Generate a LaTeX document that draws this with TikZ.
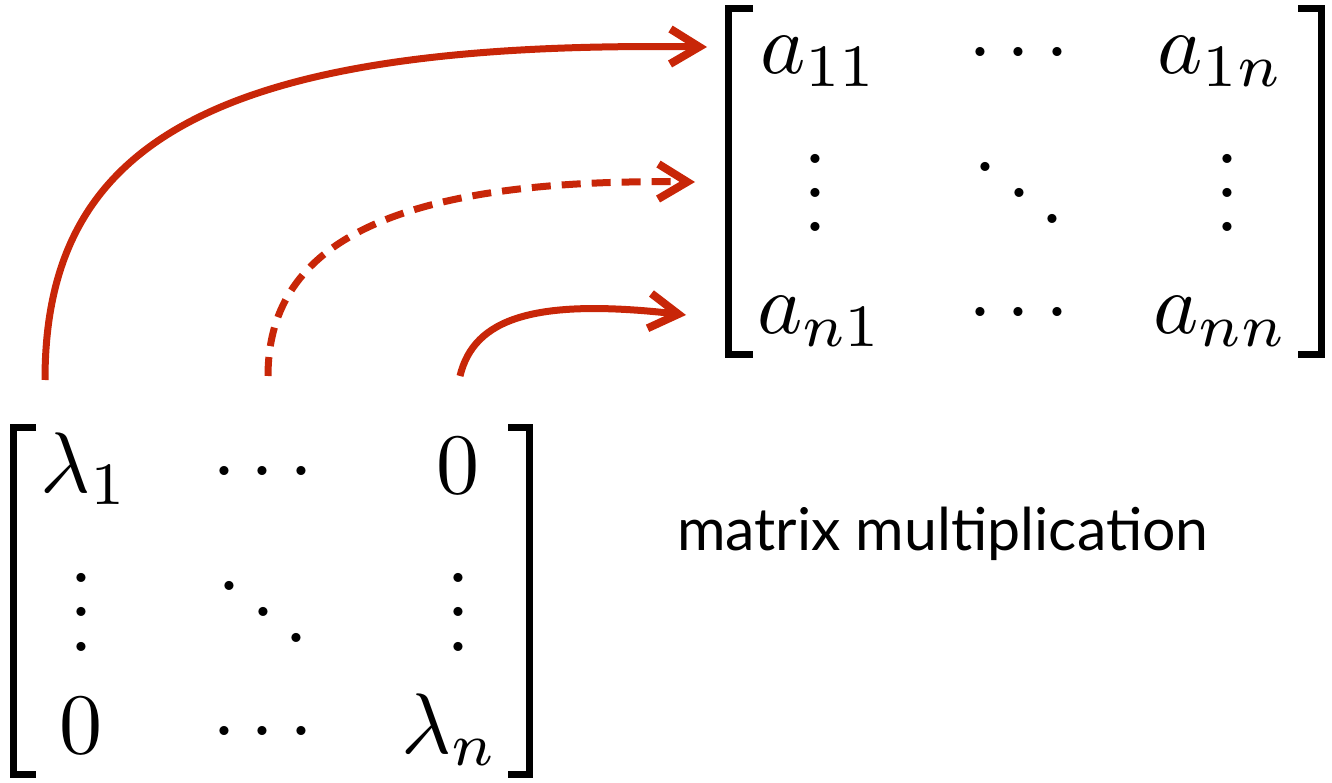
\documentclass[tikz,border=0pt]{standalone}
\usepackage{fontspec}
\newfontfamily\labelfont{Lato}
\usetikzlibrary{arrows.meta}
\definecolor{arrowred}{RGB}{200,38,8}
\newcommand{\myvdots}{\vbox{\baselineskip4pt\lineskiplimit0pt\hbox{.}\hbox{.}\hbox{.}}}
\tikzset{
  entry/.style={inner sep=0pt, outer sep=0pt, scale=8.6},
  bracket/.style={draw=black, line width=7pt, line cap=butt, line join=miter},
  link/.style={draw=arrowred, line width=7pt, line cap=butt,
    -{Straight Barb[length=29pt,width=35pt,line width=8pt]}},
  dashedlink/.style={link, dash pattern=on 19pt off 11pt},
  caption/.style={inner sep=0pt, font=\labelfont\fontsize{59}{69}\selectfont}
}
\begin{document}
\begin{tikzpicture}[x=1pt,y=-1pt]
\useasboundingbox (0,0) rectangle (1332,783);

% upper matrix
\draw[bracket] (753,8.5) -- (728.5,8.5) -- (728.5,354.5) -- (753,354.5);
\draw[bracket] (1298,8.5) -- (1321.5,8.5) -- (1321.5,354.5) -- (1298,354.5);
\node[entry, anchor=base west] (a11) at (760,73.5) {$a_{11}$};
\node[entry, anchor=base] (ac1) at (1019,73.5) {$\cdots$};
\node[entry, anchor=base east] (a1n) at (1284,73.5) {$a_{1n}$};
\node[entry, anchor=base] (av1) at (815,232) {\myvdots};
\node[entry, anchor=base] (ad) at (1019,232) {$\ddots$};
\node[entry, anchor=base] (av2) at (1227,232) {\myvdots};
\node[entry, anchor=base west] (an1) at (757,333.5) {$a_{n1}$};
\node[entry, anchor=base] (ac2) at (1019,333.5) {$\cdots$};
\node[entry, anchor=base east] (ann) at (1288,333.5) {$a_{nn}$};

% lower matrix
\draw[bracket] (36,427.5) -- (13.5,427.5) -- (13.5,774.5) -- (36,774.5);
\draw[bracket] (508,427.5) -- (529,427.5) -- (529,774.5) -- (508,774.5);
\node[entry, anchor=base west] (l1) at (40,492) {$\lambda_1$};
\node[entry, anchor=base] (lc1) at (263,492.5) {$\cdots$};
\node[entry, anchor=base] (z1) at (458,493) {$0$};
\node[entry, anchor=base] (lv1) at (81,651) {\myvdots};
\node[entry, anchor=base] (ld) at (263,651) {$\ddots$};
\node[entry, anchor=base] (lv2) at (458,651) {\myvdots};
\node[entry, anchor=base] (z2) at (81,753) {$0$};
\node[entry, anchor=base] (lc2) at (263,752.5) {$\cdots$};
\node[entry, anchor=base east] (ln) at (498,753) {$\lambda_n$};

% caption
\node[caption, anchor=base west] (cap) at (677,550) {matrix multiplication};

% arrows
\coordinate (s1) at (45,380);
\coordinate (t1) at (707,47);
\coordinate (s2) at (268,376);
\coordinate (t2) at (695,182);
\coordinate (s3) at (460,376);
\coordinate (t3) at (686,315);
\draw[link] (s1) .. controls (45,150) and (200,40) .. (t1);
\draw[dashedlink] (s2) .. controls (268,250) and (380,178) .. (t2);
\draw[link] (s3) .. controls (474,318) and (535,298) .. (t3);
\end{tikzpicture}
\end{document}
